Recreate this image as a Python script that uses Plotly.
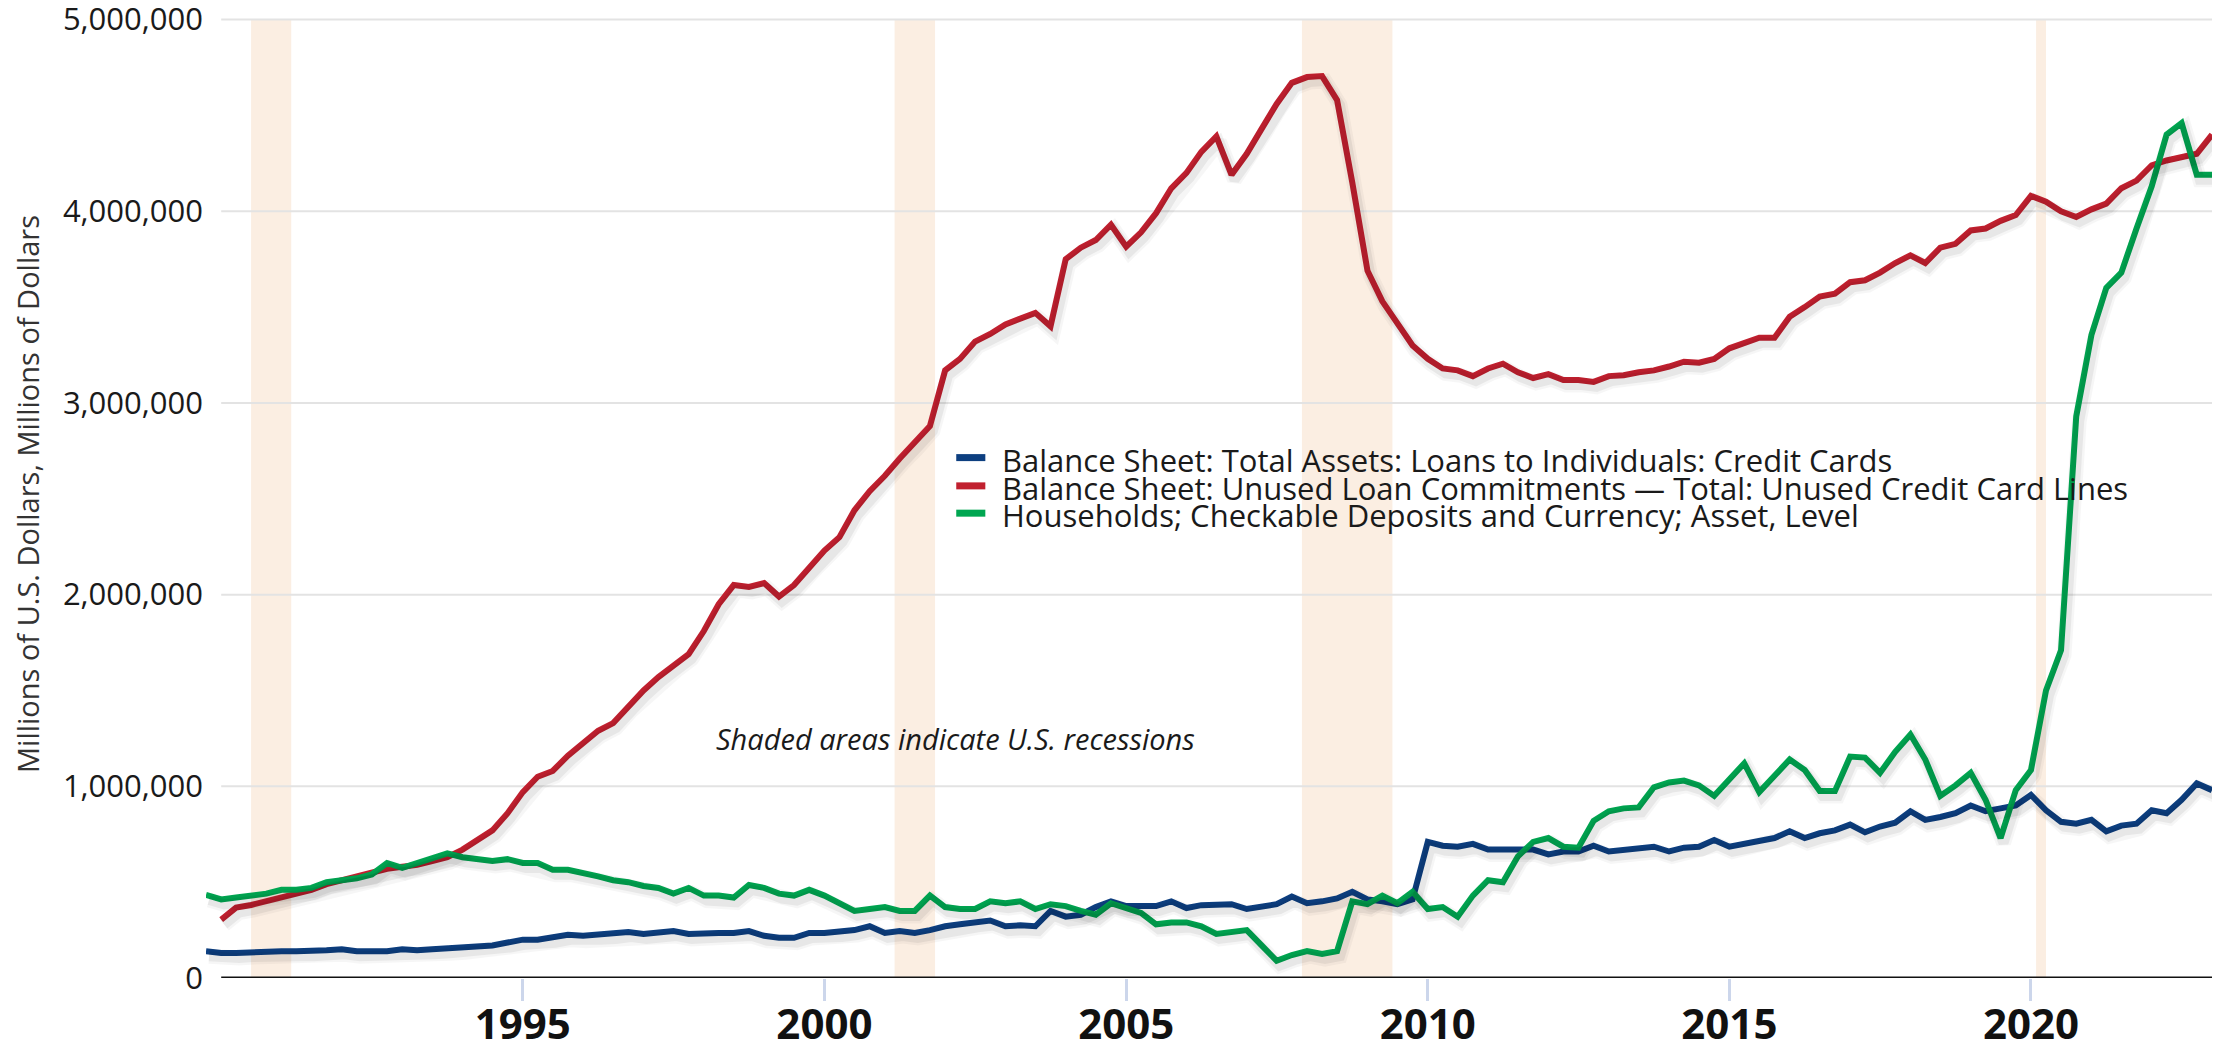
import pandas as pd
import plotly.graph_objects as go

# quarterly values in millions of millions of dollars (i.e. trillions)
loans_cc = [0.14,
            0.13, 0.13, 0.135, 0.14,
            0.14, 0.14, 0.14, 0.145,
            0.15, 0.14, 0.14, 0.14,
            0.15, 0.145, 0.15, 0.155,
            0.16, 0.17, 0.17, 0.185,
            0.20, 0.20, 0.21, 0.225,
            0.22, 0.225, 0.23, 0.24,
            0.23, 0.235, 0.245, 0.23,
            0.235, 0.235, 0.235, 0.245,
            0.22, 0.21, 0.21, 0.235,
            0.235, 0.24, 0.25, 0.27,
            0.235, 0.245, 0.235, 0.25,
            0.27, 0.28, 0.29, 0.30,
            0.27, 0.275, 0.27, 0.35,
            0.32, 0.33, 0.37, 0.40,
            0.375, 0.375, 0.375, 0.40,
            0.365, 0.38, 0.385, 0.385,
            0.36, 0.375, 0.385, 0.425,
            0.39, 0.40, 0.415, 0.45,
            0.41, 0.40, 0.385, 0.41,
            0.71, 0.69, 0.685, 0.70,
            0.67, 0.67, 0.67, 0.67,
            0.645, 0.66, 0.66, 0.69,
            0.66, 0.67, 0.675, 0.685,
            0.66, 0.68, 0.685, 0.72,
            0.685, 0.70, 0.72, 0.73,
            0.765, 0.73, 0.755, 0.77,
            0.80, 0.76, 0.79, 0.81,
            0.87, 0.825, 0.84, 0.86,
            0.90, 0.87, 0.885, 0.90,
            0.955, 0.875, 0.815, 0.805,
            0.825, 0.765, 0.795, 0.805,
            0.875, 0.86, 0.93, 1.015,
            0.98]

unused_lines = [0.305, 0.367, 0.381, 0.40,
                0.42, 0.44, 0.46, 0.49,
                0.51, 0.53, 0.55, 0.57,
                0.58, 0.59, 0.61, 0.63,
                0.67, 0.72, 0.77, 0.86,
                0.97, 1.05, 1.08, 1.16,
                1.23, 1.29, 1.33, 1.42,
                1.50, 1.57, 1.63, 1.69,
                1.81, 1.95, 2.05, 2.04,
                2.06, 1.99, 2.05, 2.14,
                2.23, 2.30, 2.44, 2.54,
                2.62, 2.71, 2.79, 2.88,
                3.17, 3.23, 3.32, 3.36,
                3.41, 3.44, 3.47, 3.40,
                3.75, 3.81, 3.85, 3.93,
                3.815, 3.89, 3.99, 4.12,
                4.20, 4.31, 4.39, 4.19,
                4.30, 4.43, 4.56, 4.67,
                4.70, 4.705, 4.58, 4.15,
                3.69, 3.53, 3.41, 3.30,
                3.23, 3.18, 3.17, 3.14,
                3.18, 3.205, 3.16, 3.13,
                3.15, 3.12, 3.12, 3.11,
                3.14, 3.145, 3.16, 3.17,
                3.19, 3.215, 3.21, 3.23,
                3.285, 3.31, 3.34, 3.34,
                3.45, 3.50, 3.555, 3.57,
                3.63, 3.64, 3.68, 3.73,
                3.77, 3.73, 3.81, 3.83,
                3.90, 3.91, 3.95, 3.98,
                4.08, 4.05, 4.00, 3.97,
                4.01, 4.04, 4.12, 4.16,
                4.24, 4.265, 4.28, 4.30,
                4.40]

checkable = [0.433,
             0.41, 0.42, 0.43, 0.44,
             0.46, 0.46, 0.47, 0.50,
             0.51, 0.52, 0.54, 0.60,
             0.575, 0.60, 0.62, 0.65,
             0.63, 0.62, 0.61, 0.62,
             0.60, 0.60, 0.565, 0.565,
             0.55, 0.53, 0.51, 0.50,
             0.48, 0.47, 0.44, 0.47,
             0.43, 0.43, 0.42, 0.485,
             0.47, 0.44, 0.43, 0.46,
             0.43, 0.39, 0.35, 0.36,
             0.37, 0.35, 0.35, 0.43,
             0.37, 0.36, 0.36, 0.40,
             0.39, 0.40, 0.36, 0.385,
             0.375, 0.35, 0.33, 0.39,
             0.365, 0.34, 0.28, 0.29,
             0.29, 0.27, 0.23, 0.24,
             0.25, 0.17, 0.09, 0.12,
             0.14, 0.125, 0.14, 0.40,
             0.385, 0.43, 0.39, 0.45,
             0.36, 0.37, 0.32, 0.43,
             0.51, 0.50, 0.635, 0.71,
             0.73, 0.685, 0.68, 0.82,
             0.87, 0.885, 0.89, 0.995,
             1.02, 1.03, 1.005, 0.95,
             1.04, 1.12, 0.97, 1.06,
             1.14, 1.085, 0.975, 0.975,
             1.155, 1.15, 1.07, 1.18,
             1.27, 1.14, 0.95, 1.005,
             1.07, 0.93, 0.73, 0.98,
             1.085, 1.50, 1.71, 2.93,
             3.355, 3.60, 3.68, 3.91,
             4.13, 4.40, 4.46, 4.19,
             4.19]

series_names = [
    "Balance Sheet: Total Assets: Loans to Individuals: Credit Cards",
    "Balance Sheet: Unused Loan Commitments \u2014 Total: Unused Credit Card Lines",
    "Households; Checkable Deposits and Currency; Asset, Level",
]
series_colors = ["#0d3f80", "#c1202f", "#00a651"]

recessions = [("1990-07-01", "1991-03-01"), ("2001-03-01", "2001-11-01"),
              ("2007-12-01", "2009-06-01"), ("2020-02-01", "2020-04-01")]
year_ticks = [1995, 2000, 2005, 2010, 2015, 2020]
y_ticks = [0, 1_000_000, 2_000_000, 3_000_000, 4_000_000, 5_000_000]

dates_long = pd.date_range("1989-10-01", "2023-01-01", freq="QS")
dates_red = pd.date_range("1990-01-01", "2023-01-01", freq="QS")

FONT = "Open Sans"
x_start, x_end = "1989-10-01", "2023-01-01"
y_top = 5_050_000

all_series = [(dates_long, loans_cc), (dates_red, unused_lines), (dates_long, checkable)]

fig = go.Figure()

# soft drop shadow under each line: same data on an overlay axis nudged down/right,
# two widths stacked to fake a blur
for width, alpha in [(15, 0.035), (10, 0.06)]:
    for (d, vals) in all_series:
        fig.add_trace(go.Scatter(
            x=d, y=[v * 1e6 for v in vals], mode="lines",
            line=dict(color=f"rgba(0,0,0,{alpha})", width=width),
            xaxis="x2", yaxis="y2", hoverinfo="skip", showlegend=False))

for (d, vals), name, color in zip(all_series, series_names, series_colors):
    fig.add_trace(go.Scatter(
        x=d, y=[v * 1e6 for v in vals], mode="lines", name=name,
        line=dict(color=color, width=6), showlegend=False))

# recession shading
for r0, r1 in recessions:
    fig.add_shape(type="rect", xref="x", yref="y", x0=r0, x1=r1, y0=0, y1=5_000_000,
                  fillcolor="#fbeee2", line_width=0, layer="below")

# grid lines and base line start at 1990
for yv in y_ticks[1:]:
    fig.add_shape(type="line", xref="x", yref="y", x0="1990-01-01", x1=x_end, y0=yv, y1=yv,
                  line=dict(color="#e3e3e3", width=2), layer="below")
fig.add_shape(type="line", xref="x", yref="y", x0="1990-01-01", x1=x_end, y0=0, y1=0,
              line=dict(color="#111111", width=3))

# legend drawn by hand (tight line spacing)
leg_y = [0.5356, 0.5064, 0.4782]
for name, color, yy in zip(series_names, series_colors, leg_y):
    fig.add_shape(type="line", xref="paper", yref="paper", x0=0.3740, x1=0.3885,
                  y0=yy + 0.002, y1=yy + 0.002, line=dict(color=color, width=7))
    fig.add_annotation(x=0.3958, y=yy, xref="paper", yref="paper", text=name, showarrow=False,
                       xanchor="left", yanchor="middle",
                       font=dict(family=FONT, size=31, color="#1a1a1a"))

fig.add_annotation(x=0.2532, y=0.2474, xref="paper", yref="paper",
                   text="<i>Shaded areas indicate U.S. recessions</i>", showarrow=False,
                   xanchor="left", yanchor="middle",
                   font=dict(family=FONT, size=29, color="#1a1a1a"))

shift_t = pd.Timedelta(days=18)
shift_v = 26_000
fig.update_layout(
    width=2230, height=1042,
    margin=dict(l=206, r=18, t=10, b=64),
    plot_bgcolor="white", paper_bgcolor="white",
    font=dict(family=FONT, color="#1a1a1a"),
    showlegend=False,
    xaxis=dict(
        type="date", range=[x_start, x_end], automargin=False,
        tickvals=[pd.Timestamp(f"{y}-01-01") for y in year_ticks],
        ticktext=[f"<b>{y}</b>" for y in year_ticks],
        tickfont=dict(family=FONT, size=42, color="#111111"),
        ticks="outside", ticklen=22, tickwidth=3, tickcolor="#ccd6eb",
        ticklabelstandoff=-12, ticklabeloverflow="allow",
        showgrid=False, zeroline=False, showline=False,
    ),
    yaxis=dict(
        range=[0, y_top], tickvals=y_ticks, automargin=False,
        ticktext=[f"{v:,}" for v in y_ticks],
        tickfont=dict(family=FONT, size=31, color="#1a1a1a"),
        showgrid=False, zeroline=False, showline=False, ticks="",
        ticklabelstandoff=2, ticklabeloverflow="allow",
        title=dict(text="Millions of U.S. Dollars, Millions of Dollars",
                   font=dict(family=FONT, size=29, color="#333333"), standoff=14),
    ),
    xaxis2=dict(type="date", overlaying="x",
                range=[pd.Timestamp(x_start) - shift_t, pd.Timestamp(x_end) - shift_t],
                visible=False),
    yaxis2=dict(overlaying="y", range=[shift_v, y_top + shift_v], visible=False),
)

fig.write_html("out.html", config={"displayModeBar": False},
               post_script="document.body.style.margin='0';")
